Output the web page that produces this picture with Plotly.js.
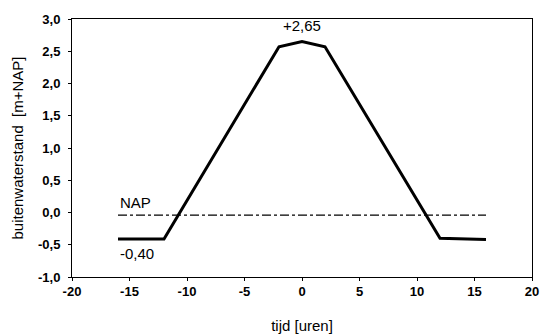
<!DOCTYPE html>
<html><head><meta charset="utf-8">
<script src="https://cdn.plot.ly/plotly-3.0.1.min.js"></script>
<style>html,body{margin:0;padding:0;background:#fff}#c{width:544px;height:336px}</style>
</head><body><div id="c"></div>
<script>
const tijd = [-16, -12, -2, 0, 2, 12, 16];
const waterstand = [-0.41, -0.41, 2.57, 2.65, 2.57, -0.40, -0.42];
const napX = [-16, 16];
const napY = [-0.04, -0.04];
const xTicks = [-20, -15, -10, -5, 0, 5, 10, 15, 20];
const yTicks = [-1.0, -0.5, 0.0, 0.5, 1.0, 1.5, 2.0, 2.5, 3.0];
const xTickText = xTicks.map(v => String(v));
const yTickText = yTicks.map(v => v.toFixed(1).replace('.', ','));
const labels = [
  {x: -16, y: -0.04, text: 'NAP', anchor: 'left', yanchor: 'bottom', shift: 2},
  {x: -16, y: -0.41, text: '-0,40', anchor: 'left', yanchor: 'top', shift: -4},
  {x: 0, y: 2.65, text: '+2,65', anchor: 'center', yanchor: 'bottom', shift: 6}
];
const fam = 'Liberation Sans, Arial, sans-serif';
const data = [
  {x: napX, y: napY, mode: 'lines', line: {color: '#000', width: 1.2, dash: 'dashdot'}, hoverinfo: 'skip'},
  {x: tijd, y: waterstand, mode: 'lines', line: {color: '#000', width: 3}, hoverinfo: 'skip'}
];
const layout = {
  width: 544, height: 336,
  margin: {l: 72, r: 12, t: 19, b: 59},
  paper_bgcolor: '#fff', plot_bgcolor: '#fff',
  showlegend: false,
  font: {family: fam, size: 13, color: '#000'},
  xaxis: {
    range: [-20, 20], tickmode: 'array', tickvals: xTicks, ticktext: xTickText,
    showgrid: false, zeroline: false,
    showline: true, mirror: true, linecolor: '#000', linewidth: 1,
    ticks: 'outside', ticklen: 3, tickcolor: '#000', ticklabelstandoff: -1,
    tickfont: {family: fam, size: 13, color: '#000', weight: 'bold'},
    title: {text: 'tijd [uren]', font: {family: fam, size: 15, color: '#000'}, standoff: 22}
  },
  yaxis: {
    range: [-1.0, 3.0], tickmode: 'array', tickvals: yTicks, ticktext: yTickText,
    showgrid: false, zeroline: false,
    showline: true, mirror: true, linecolor: '#000', linewidth: 1,
    ticks: 'outside', ticklen: 3, tickcolor: '#000', ticklabelstandoff: 5,
    tickfont: {family: fam, size: 13, color: '#000', weight: 'bold'},
    title: {text: 'buitenwaterstand  [m+NAP]', font: {family: fam, size: 15, color: '#000'}, standoff: 10}
  },
  annotations: labels.map(l => ({
    x: l.x, y: l.y, xref: 'x', yref: 'y', text: l.text, showarrow: false,
    xanchor: l.anchor, yanchor: l.yanchor, yshift: l.shift,
    font: {family: fam, size: 15, color: '#000'}
  }))
};
Plotly.newPlot('c', data, layout, {staticPlot: true, displayModeBar: false});
</script></body></html>
